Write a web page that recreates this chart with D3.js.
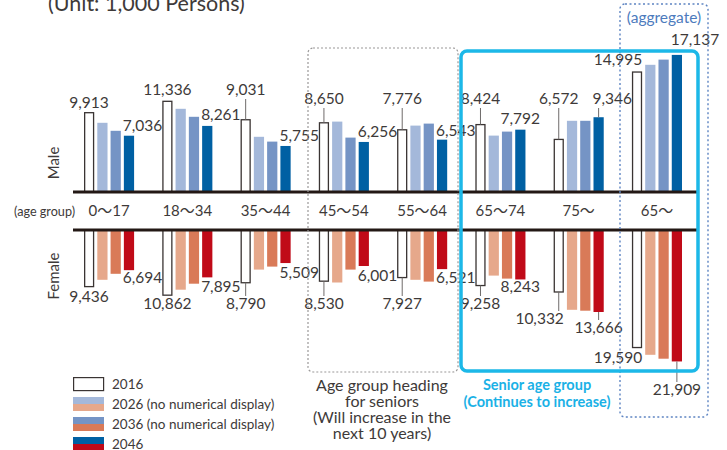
<!DOCTYPE html>
<html>
<head>
<meta charset="utf-8">
<script src="https://cdn.jsdelivr.net/npm/d3@7"></script>
<style>
  body { margin: 0; background: #fff; }
  svg { display: block; font-family: Lato, "Noto Sans", "Noto Sans CJK JP", sans-serif; }
</style>
</head>
<body>
<svg width="727" height="450"></svg>
<script>
const categories = ["0〜17", "18〜34", "35〜44", "45〜54", "55〜64", "65〜74", "75〜", "65〜"];
const years = ["2016", "2026", "2036", "2046"];

const male2016 = [9913, 11336, 9031, 8650, 7776, 8424, 6572, 14995];
const male2026 = [8650, 10400, 6900, 8800, 8300, 7050, 8900, 15900];
const male2036 = [7650, 9400, 6300, 6800, 8550, 7550, 8900, 16550];
const male2046 = [7036, 8261, 5755, 6256, 6543, 7792, 9346, 17137];

const female2016 = [9436, 10862, 8790, 8530, 7927, 9258, 10332, 19590];
const female2026 = [8300, 9950, 6600, 8750, 8300, 7600, 13300, 20800];
const female2036 = [7300, 8950, 6100, 6600, 8600, 8100, 13450, 21450];
const female2046 = [6694, 7895, 5509, 6001, 6521, 8243, 13666, 21909];

const legendLabels = ["2016", "2026 (no numerical display)", "2036 (no numerical display)", "2046"];

const maleColors = ["#fff", "#a4b8da", "#7594c5", "#0060a3"];
const femaleColors = ["#fff", "#e6a88b", "#d97a58", "#c00a18"];
const ink = "#3e3a39";

// label placement: anchor + offset from bar end, or a fixed row with a leader line
const male2016Lab = [
  { a: "middle", dy: 5 }, { a: "middle", dy: 6.5 }, { a: "middle", row: 95 }, { a: "middle", row: 104 },
  { a: "middle", row: 104 }, { a: "middle", row: 104 }, { a: "middle", row: 104 }, { a: "end", dy: 7 }
];
const male2046Lab = [
  { a: "start", dy: 5 }, { a: "start", dy: 6 }, { a: "start", dy: 5 }, { a: "start", dy: 5 },
  { a: "start", dy: 4 }, { a: "middle", dy: 6 }, { a: "start", row: 104 }, { a: "start", dy: 10 }
];
const female2016Lab = [
  { a: "middle", dy: 15 }, { a: "middle", dy: 14 }, { a: "middle", row: 309 }, { a: "middle", row: 309 },
  { a: "middle", row: 309 }, { a: "middle", row: 309 }, { a: "end", row: 324 }, { a: "end", dy: 15 }
];
const female2046Lab = [
  { a: "start", dy: 13 }, { a: "start", dy: 15 }, { a: "start", dy: 15 }, { a: "start", dy: 15 },
  { a: "start", dy: 14 }, { a: "middle", dy: 13 }, { a: "middle", row: 333 }, { a: "middle", row: 395 }
];

const svg = d3.select("svg");

const x = d3.scaleBand().domain(categories.map((d, i) => i)).range([84, 682]).paddingInner(0.36).paddingOuter(0);
const xi = d3.scaleBand().domain(years).range([0, x.bandwidth()]).paddingInner(0.23);

const maleBase = 192;
const femaleBase = 230;
const yM = d3.scaleLinear().domain([0, 10000]).range([maleBase, maleBase - 80]);
const yF = d3.scaleLinear().domain([0, 10000]).range([femaleBase, femaleBase + 60]);

const maleSeries = [male2016, male2026, male2036, male2046];
const femaleSeries = [female2016, female2026, female2036, female2046];

function drawBars(series, colors, y, base) {
  series.forEach((vals, s) => {
    const yr = years[s];
    svg.append("g")
      .selectAll("rect")
      .data(vals)
      .enter()
      .append("rect")
      .attr("x", (d, i) => x(i) + xi(yr) + (s == 0 ? 0.65 : 0))
      .attr("width", xi.bandwidth() - (s == 0 ? 1.3 : 0))
      .attr("y", d => Math.min(y(d), base))
      .attr("height", d => Math.abs(y(d) - base))
      .attr("fill", colors[s])
      .attr("stroke", s == 0 ? "#3a3433" : "none")
      .attr("stroke-width", 1.3);
  });
}
drawBars(maleSeries, maleColors, yM, maleBase);
drawBars(femaleSeries, femaleColors, yF, femaleBase);

// thick base lines
[maleBase, femaleBase].forEach(b => {
  svg.append("line")
    .attr("x1", 73).attr("x2", 698)
    .attr("y1", b).attr("y2", b)
    .attr("stroke", "#231815").attr("stroke-width", 2.8);
});

function drawLabels(vals, yr, y, dir, specs) {
  const g = svg.append("g");
  vals.forEach((v, i) => {
    const sp = specs[i];
    const left = x(i) + xi(yr);
    const bw = xi.bandwidth();
    const edge = y(v);
    let tx = sp.a == "start" ? left - 1 : sp.a == "end" ? left + bw : left + bw / 2;
    let ty;
    if (sp.row !== undefined) {
      ty = sp.row;
      const endY = dir < 0 ? ty + 4 : ty - 13;
      g.append("line")
        .attr("x1", left + bw / 2).attr("x2", left + bw / 2)
        .attr("y1", edge).attr("y2", endY)
        .attr("stroke", "#6f6b6a").attr("stroke-width", 1);
    } else {
      ty = dir < 0 ? edge - sp.dy : edge + sp.dy;
    }
    g.append("text")
      .attr("x", tx).attr("y", ty)
      .attr("text-anchor", sp.a)
      .attr("font-size", 15.5)
      .attr("fill", ink)
      .text(d3.format(",")(v));
  });
}
drawLabels(male2016, "2016", yM, -1, male2016Lab);
drawLabels(male2046, "2046", yM, -1, male2046Lab);
drawLabels(female2016, "2016", yF, 1, female2016Lab);
drawLabels(female2046, "2046", yF, 1, female2046Lab);

// category row
svg.append("g")
  .selectAll("text")
  .data(categories)
  .enter()
  .append("text")
  .attr("x", (d, i) => x(i) + x.bandwidth() / 2)
  .attr("y", 216)
  .attr("text-anchor", "middle")
  .attr("font-size", 15)
  .attr("fill", ink)
  .text(d => d);

svg.append("text")
  .attr("x", 14).attr("y", 216)
  .attr("font-size", 12.5)
  .attr("textLength", 61)
  .attr("lengthAdjust", "spacingAndGlyphs")
  .attr("fill", ink)
  .text("(age group)");

// side labels
[["Male", 163], ["Female", 276]].forEach(([t, cy]) => {
  svg.append("text")
    .attr("transform", `translate(59, ${cy}) rotate(-90)`)
    .attr("text-anchor", "middle")
    .attr("font-size", 15)
    .attr("fill", ink)
    .text(t);
});

// title (cut off at top)
svg.append("text")
  .attr("x", 48).attr("y", 11)
  .attr("font-size", 21.5)
  .attr("fill", ink)
  .text("(Unit: 1,000 Persons)");

// highlight boxes
svg.append("rect")
  .attr("x", 308).attr("y", 48).attr("width", 150).attr("height", 324)
  .attr("rx", 5)
  .attr("fill", "none").attr("stroke", "#9a9898").attr("stroke-width", 1.2)
  .attr("stroke-dasharray", "2,2");

svg.append("rect")
  .attr("x", 620).attr("y", 4).attr("width", 88).attr("height", 413)
  .attr("rx", 5)
  .attr("fill", "none").attr("stroke", "#5d84c2").attr("stroke-width", 1.4)
  .attr("stroke-dasharray", "2,2.5");

svg.append("rect")
  .attr("x", 461).attr("y", 51).attr("width", 237).attr("height", 320)
  .attr("rx", 6)
  .attr("fill", "none").attr("stroke", "#1cb8e8").attr("stroke-width", 3.5);

svg.append("text")
  .attr("x", 664).attr("y", 23)
  .attr("text-anchor", "middle")
  .attr("font-size", 15.5)
  .attr("fill", "#4d7bbd")
  .text("(aggregate)");

// notes
const note1 = ["Age group heading", "for seniors", "(Will increase in the", "next 10 years)"];
svg.append("g")
  .selectAll("text")
  .data(note1)
  .enter()
  .append("text")
  .attr("x", 382)
  .attr("y", (d, i) => 391 + i * 16)
  .attr("text-anchor", "middle")
  .attr("font-size", 16)
  .attr("fill", ink)
  .text(d => d);

const note2 = ["Senior age group", "(Continues to increase)"];
svg.append("g")
  .selectAll("text")
  .data(note2)
  .enter()
  .append("text")
  .attr("x", 537)
  .attr("y", (d, i) => 390 + i * 16.5)
  .attr("text-anchor", "middle")
  .attr("font-size", 14.5)
  .attr("font-weight", "bold")
  .attr("fill", "#1ab1e6")
  .text(d => d);

// legend
const leg = svg.append("g").attr("transform", "translate(73, 377)");
years.forEach((yr, i) => {
  const row = leg.append("g").attr("transform", `translate(0, ${i * 20})`);
  if (i == 0) {
    row.append("rect").attr("x", 0.6).attr("y", 0.6).attr("width", 30).attr("height", 13)
      .attr("fill", "#fff").attr("stroke", "#3a3433").attr("stroke-width", 1.2);
  } else {
    row.append("rect").attr("width", 31).attr("height", 7).attr("fill", maleColors[i]);
    row.append("rect").attr("y", 7).attr("width", 31).attr("height", 7).attr("fill", femaleColors[i]);
  }
  row.append("text")
    .attr("x", 39).attr("y", 12)
    .attr("font-size", 13.5)
    .attr("fill", ink)
    .text(legendLabels[i]);
});
</script>
</body>
</html>
